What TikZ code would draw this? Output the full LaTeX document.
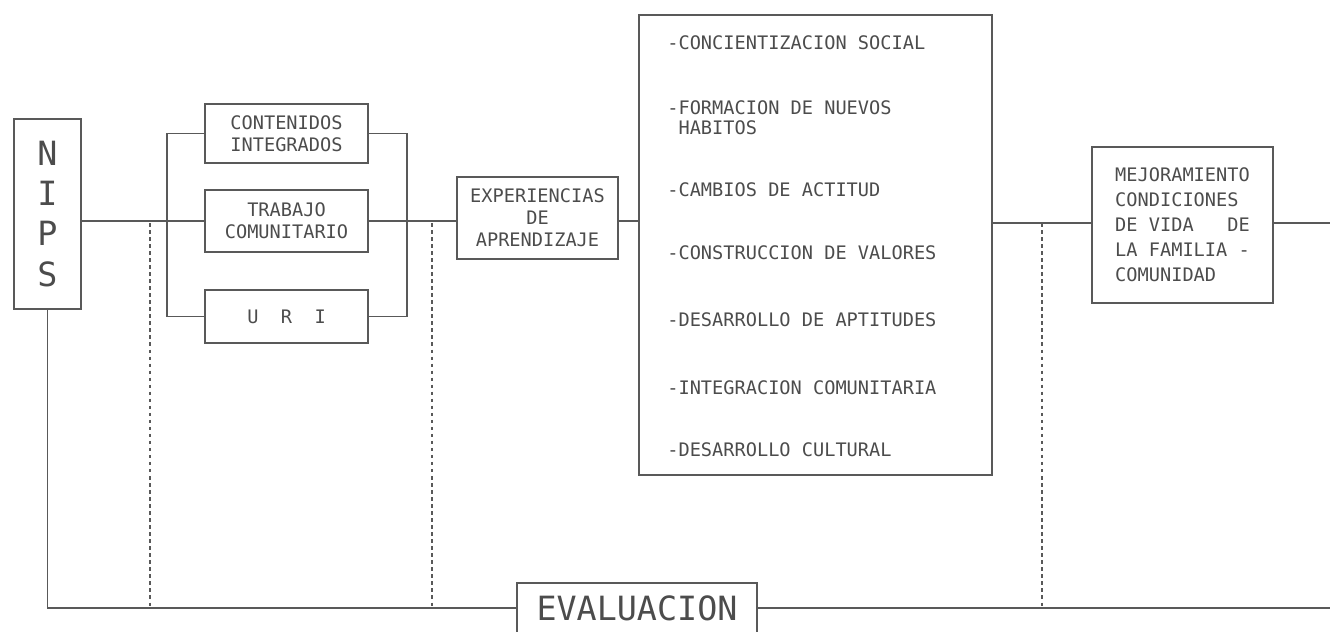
\documentclass[tikz,border=0pt]{standalone}
\usepackage{fontspec}
\setmonofont{DejaVu Sans Mono}
\usepackage{tikz}
\usetikzlibrary{positioning,calc}
\definecolor{linea}{gray}{0.35}
\definecolor{tinta}{gray}{0.3}
\newcommand\texto{\ttfamily\fontsize{10.6}{12.4}\selectfont}
\newcommand\grande{\ttfamily\fontsize{19}{22.8}\selectfont}
\tikzset{
  caja/.style={draw=linea,line width=0.8pt,inner sep=0pt,
    text=tinta,font=\texto,align=center},
  item/.style={anchor=west,inner sep=0pt,text=tinta,font=\texto,align=left},
  trazo/.style={draw=linea,line width=0.8pt},
  guia/.style={draw=linea,line width=0.6pt,dash pattern=on 2pt off 2pt}
}

\begin{document}
\begin{tikzpicture}[x=0.02cm,y=-0.02cm]
    \useasboundingbox (0,0) rectangle (1330,632);
    % cajas
    \node (nips) [caja,minimum width=1.34cm,minimum height=3.8cm,font=\grande]
      at (47.5,214) {N\\I\\P\\S};
    \node (contenidos) [caja,minimum width=3.26cm,minimum height=1.18cm]
      at (286.5,133.5) {CONTENIDOS\\INTEGRADOS};
    \node (trabajo) [caja,minimum width=3.26cm,minimum height=1.24cm]
      at (286.5,221) {TRABAJO\\COMUNITARIO};
    \node (uri) [caja,minimum width=3.26cm,minimum height=1.06cm]
      at (286.5,316.5) {U\ \ R\ \ I};
    \node (experiencias) [caja,minimum width=3.22cm,minimum height=1.64cm]
      at (537.5,218) {EXPERIENCIAS\\DE\\APRENDIZAJE};
    \node (logros) [caja,minimum width=7.06cm,minimum height=9.2cm]
      at (815.5,245) {};
    \node (mejoramiento) [caja,minimum width=3.62cm,minimum height=3.12cm,
      align=left,font=\ttfamily\fontsize{10.6}{14.2}\selectfont]
      at (1182.5,225) {MEJORAMIENTO\\CONDICIONES\\DE VIDA\ \ \ DE\\LA FAMILIA -\\COMUNIDAD};
    \node (evaluacion) [caja,minimum width=4.8cm,minimum height=1.0cm,font=\grande]
      at (637,608) {EVALUACION};
    % logros del proceso
    \node (i1) [item] at (667,43) {-CONCIENTIZACION SOCIAL};
    \node (i2) [item,font=\ttfamily\fontsize{10.6}{11.4}\selectfont]
      at (667,118) {-FORMACION DE NUEVOS\\\phantom{-}HABITOS};
    \node (i3) [item] at (667,190) {-CAMBIOS DE ACTITUD};
    \node (i4) [item] at (667,253) {-CONSTRUCCION DE VALORES};
    \node (i5) [item] at (667,320) {-DESARROLLO DE APTITUDES};
    \node (i6) [item] at (667,388) {-INTEGRACION COMUNITARIA};
    \node (i7) [item] at (667,450) {-DESARROLLO CULTURAL};
    % lineas
    \coordinate (lb) at (167,221);
    \coordinate (rb) at (407,221);
    \coordinate (fin) at (1330,223);
    \coordinate (finb) at (1330,608);
    \draw [trazo] (nips.east |- trabajo.west) -- (trabajo.west);
    \draw [trazo] (contenidos.west) -| (lb) |- (uri.west);
    \draw [trazo] (contenidos.east) -| (rb) |- (uri.east);
    \draw [trazo] (trabajo.east) -- (experiencias.west |- trabajo.east);
    \draw [trazo] (experiencias.east |- trabajo.east) -- (logros.west |- trabajo.east);
    \draw [trazo] (logros.east |- fin) -- (mejoramiento.west |- fin);
    \draw [trazo] (mejoramiento.east |- fin) -- (fin);
    \draw [trazo] (nips.south) |- (evaluacion.west);
    \draw [trazo] (evaluacion.east) -- (finb);
    \foreach \x in {150,432,1042}
      \draw [guia] (\x,223) -- (\x,607);
\end{tikzpicture}
\end{document}
